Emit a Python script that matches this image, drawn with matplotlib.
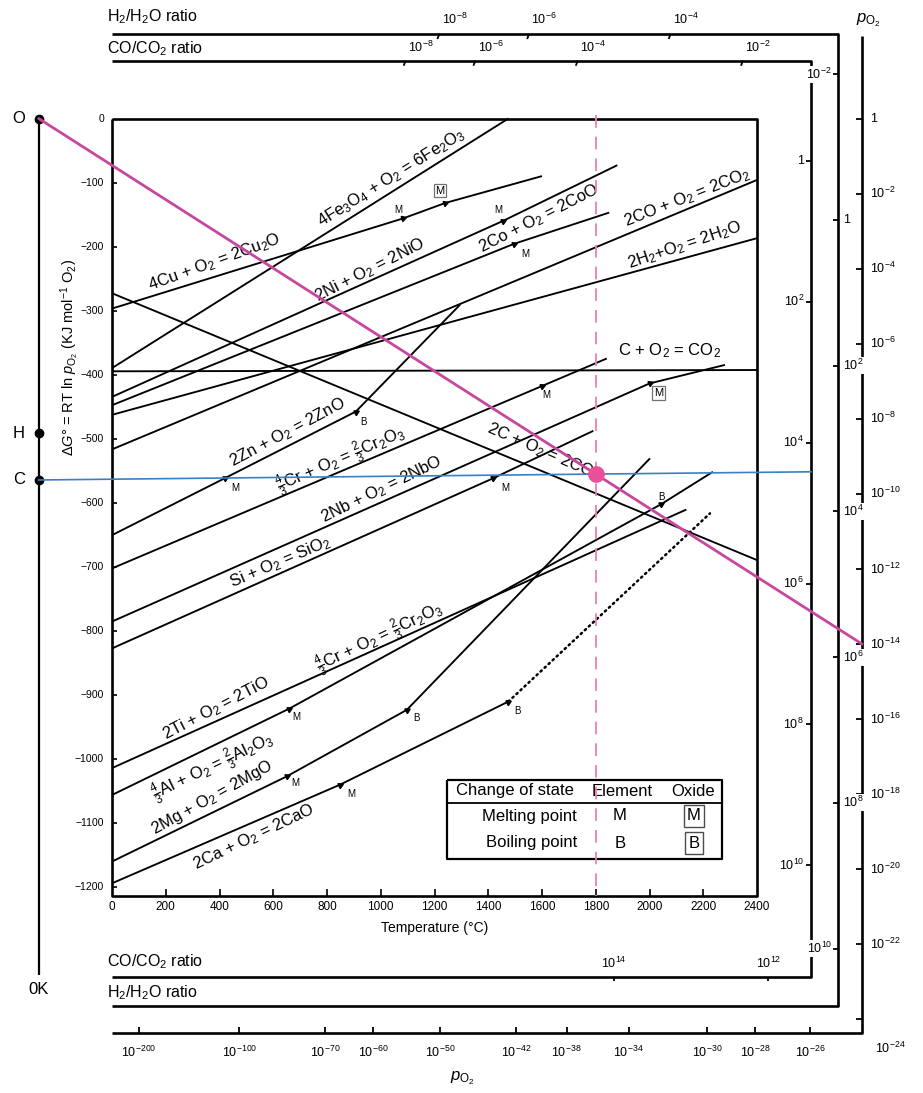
import numpy as np
import matplotlib
matplotlib.use("Agg")
import matplotlib.pyplot as plt
from matplotlib.patches import Rectangle

plt.rcParams['font.family'] = ['Liberation Sans', 'DejaVu Sans']
plt.rcParams['mathtext.fontset'] = 'custom'
plt.rcParams['mathtext.rm'] = 'Liberation Sans'
plt.rcParams['mathtext.it'] = 'Liberation Sans:italic'
plt.rcParams['mathtext.bf'] = 'Liberation Sans:bold'

# ---------------- data (T in deg C, dG in kJ/mol O2) ----------------
T_TICKS = [0, 200, 400, 600, 800, 1000, 1200, 1400, 1600, 1800, 2000, 2200, 2400]
G_TICKS = [0, -100, -200, -300, -400, -500, -600, -700, -800, -900, -1000, -1100, -1200]

cu_T = [0, 1084, 1240, 1600];        cu_G = [-297, -156, -132, -90]
fe_T = [0, 1475];                    fe_G = [-390, 0]
ni_T = [0, 1455, 1880];              ni_G = [-435, -160, -73]
co_T = [0, 1495, 1850];              co_G = [-448, -196, -147]
co2_T = [0, 2400];                   co2_G = [-517, -96]
h2_T = [0, 2400];                    h2_G = [-463, -187]
cco2_T = [0, 2400];                  cco2_G = [-395, -393]
c2co_T = [0, 2400];                  c2co_G = [-273, -690]
zn_T = [0, 420, 907, 1295];          zn_G = [-651, -562, -458, -291]
cr_T = [0, 1600, 1841];              cr_G = [-703, -418, -375]
nb_T = [0, 2000, 2281];              nb_G = [-786, -414, -385]
si_T = [0, 1419, 1791];              si_G = [-828, -562, -488]
ti_T = [0, 2137];                    ti_G = [-1015, -611]
al_T = [0, 660, 2042, 2236];         al_G = [-1057, -922, -603, -552]
mg_T = [0, 650, 1097, 2002];         mg_G = [-1161, -1028, -924, -531]
ca_T = [0, 848, 1475];               ca_G = [-1195, -1041, -911]
cag_T = [1475, 2225];                cag_G = [-911, -617]

solid_lines = [(cu_T, cu_G), (fe_T, fe_G), (ni_T, ni_G), (co_T, co_G), (co2_T, co2_G),
               (h2_T, h2_G), (cco2_T, cco2_G), (c2co_T, c2co_G), (zn_T, zn_G), (cr_T, cr_G),
               (nb_T, nb_G), (si_T, si_G), (ti_T, ti_G), (al_T, al_G), (mg_T, mg_G), (ca_T, ca_G)]

# reaction labels: text, T, dG, rotation
label_text = [r"4Cu + O$_2$ = 2Cu$_2$O", r"4Fe$_3$O$_4$ + O$_2$ = 6Fe$_2$O$_3$",
              r"2Ni + O$_2$ = 2NiO", r"2Co + O$_2$ = 2CoO", r"2CO + O$_2$ = 2CO$_2$",
              r"2H$_2$+O$_2$ = 2H$_2$O", r"C + O$_2$ = CO$_2$", r"2C + O$_2$ = 2CO",
              r"2Zn + O$_2$ = 2ZnO", r"$\frac{4}{3}$Cr + O$_2$ = $\frac{2}{3}$Cr$_2$O$_3$",
              r"2Nb + O$_2$ = 2NbO", r"Si + O$_2$ = SiO$_2$",
              r"$\frac{4}{3}$Cr + O$_2$ = $\frac{2}{3}$Cr$_2$O$_3$", r"2Ti + O$_2$ = 2TiO",
              r"$\frac{4}{3}$Al + O$_2$ = $\frac{2}{3}$Al$_2$O$_3$", r"2Mg + O$_2$ = 2MgO",
              r"2Ca + O$_2$ = 2CaO"]
label_T = [380, 1038, 960, 1589, 2139, 2132, 2076, 1593, 653, 852, 1003, 628, 997, 386, 377, 371, 529]
label_G = [-224, -93, -237, -157, -124, -198, -362, -518, -491, -534, -580, -694, -812, -921, -1013, -1061, -1122]
label_rot = [20, 32, 27, 27, 21.5, 18.5, 0, -23.5, 28, 23.5, 26, 23, 25.5, 27.5, 25.5, 29, 25.5]

# change-of-state points
cs_line = [cu_T, cu_T, ni_T, co_T, zn_T, zn_T, cr_T, nb_T, si_T, al_T, al_T, mg_T, mg_T, ca_T, ca_T]
cs_lineG = [cu_G, cu_G, ni_G, co_G, zn_G, zn_G, cr_G, nb_G, si_G, al_G, al_G, mg_G, mg_G, ca_G, ca_G]
cs_T = [1084, 1240, 1455, 1495, 420, 907, 1600, 2000, 1419, 660, 2042, 650, 1097, 848, 1475]
cs_kind = ["M", "M", "M", "M", "M", "B", "M", "M", "M", "M", "B", "M", "B", "M", "B"]
cs_oxide = [False, True, False, False, False, False, False, True, False, False, False, False, False, False, False]
cs_lT = [1065, 1220, 1437, 1537, 458, 935, 1617, 2033, 1462, 687, 2045, 681, 1134, 892, 1508]
cs_lG = [-143, -113, -143, -212, -578, -474, -432, -429, -578, -935, -591, -1039, -937, -1055, -926]

# nomographic scales (exponents of the tick labels)
po2_right_exp = [0, -2, -4, -6, -8, -10, -12, -14, -16, -18, -20, -22, -24]
po2_bottom_exp = [-200, -100, -70, -60, -50, -42, -38, -34, -30, -28, -26]
co_top_exp = [-8, -6, -4, -2]
co_right_exp = [0, 2, 4, 6, 8, 10]
co_bottom_exp = [14, 12]
h2_top_exp = [-8, -6, -4]
h2_right_exp = [-2, 0, 2, 4, 6, 8, 10]

# thermodynamic constants used by the nomograph
R = 8.314e-3
LN10 = np.log(10.0)
TK0 = 273.0
A_CO, B_CO = -564.8, 0.1734     # 2CO + O2 = 2CO2 (kJ, kJ/K)
A_H2, B_H2 = -492.0, 0.1122     # 2H2 + O2 = 2H2O
ANNOT_T = 1800
ANNOT_PO2_EXP = -14

# ---------------- layout (pixel geometry) ----------------
X0, XS = 112.0, 0.26875     # px of T=0, px per deg C
Y0, YS = 118.5, 0.64        # px of dG=0, px per kJ
W, H = 923, 1093

def px2T(x):
    return (x - X0) / XS

def py2G(y):
    return (Y0 - y) / YS

fig = plt.figure(figsize=(W / 100, H / 100), dpi=100)
ax = fig.add_axes([0, 0, 1, 1])
ax.set_xlim(px2T(0), px2T(W))
ax.set_ylim(py2G(H), py2G(0))
ax.axis('off')

K = dict(color='k', solid_capstyle='butt')
dT = 1 / XS   # one pixel in T units
dG = 1 / YS   # one pixel in G units

# frame
G_BOT = py2G(896)
ax.plot([0, 2400, 2400, 0, 0], [0, 0, G_BOT, G_BOT, 0], lw=1.9, zorder=4, **K)
for g in G_TICKS:
    if g != 0:
        ax.plot([0, 5 * dT], [g, g], lw=1.2, zorder=4, **K)
    ax.text(px2T(104), g, f"{g}".replace("-", "\u2212") if g else "0",
            ha='right', va='center', fontsize=7.5)
for t in T_TICKS:
    if 0 < t < 2400:
        ax.plot([t, t], [G_BOT, G_BOT + 7 * dG], lw=1.2, zorder=4, **K)
    ax.text(t, py2G(907), str(t), ha='center', va='center', fontsize=8.5)
ax.text(1200, py2G(928), "Temperature (\u00b0C)", ha='center', va='center', fontsize=10)
ax.text(px2T(70), py2G(357), r"$\Delta G\degree$ = RT ln $p_{\mathrm{O_2}}$ (KJ mol$^{-1}$ O$_2$)",
        rotation=90, ha='center', va='center', fontsize=10.5)

# reaction lines
for T, G in solid_lines:
    ax.plot(T, G, lw=1.35, zorder=3, **K)
ax.plot(cag_T, cag_G, color='k', lw=1.8, linestyle=(0, (0.6, 1.6)), dash_capstyle='round', zorder=3)

for s, t, g, r in zip(label_text, label_T, label_G, label_rot):
    ax.text(t, g, s, rotation=r, rotation_mode='anchor', ha='center', va='center', fontsize=12, zorder=5)

# change of state markers
for Tl, Gl, t, kind, ox, lt, lg in zip(cs_line, cs_lineG, cs_T, cs_kind, cs_oxide, cs_lT, cs_lG):
    g = np.interp(t, Tl, Gl)
    i = min(np.searchsorted(Tl, t), len(Tl) - 1)
    i = max(i, 1)
    ang = np.degrees(np.arctan2((Gl[i] - Gl[i - 1]) * YS, (Tl[i] - Tl[i - 1]) * XS))
    ax.plot([t], [g], marker=(3, 0, ang - 90), markersize=4.5, color='k', zorder=6)
    if ox:
        ax.text(lt, lg, kind, ha='center', va='center', fontsize=8, zorder=6,
                bbox=dict(boxstyle='square,pad=0.15', facecolor='white', edgecolor='0.45', lw=0.9))
    else:
        ax.text(lt, lg, kind, ha='center', va='center', fontsize=7, zorder=6)

# legend table
lx0, lx1, ly0, ly1, lym = px2T(447), px2T(722), py2G(780), py2G(859), py2G(803)
ax.plot([lx0, lx1, lx1, lx0, lx0], [ly0, ly0, ly1, ly1, ly0], lw=1.6, zorder=6, **K)
ax.plot([lx0, lx1], [lym, lym], lw=1.3, zorder=6, **K)
ax.add_patch(Rectangle((lx0, ly1), lx1 - lx0, ly0 - ly1, facecolor='white', edgecolor='none', zorder=5))
ax.text(px2T(515), py2G(791), "Change of state", ha='center', va='center', fontsize=12, zorder=7)
ax.text(px2T(622), py2G(791), "Element", ha='center', va='center', fontsize=12, zorder=7)
ax.text(px2T(693), py2G(791), "Oxide", ha='center', va='center', fontsize=12, zorder=7)
for yy, name, letter in [(816, "Melting point", "M"), (843, "Boiling point", "B")]:
    ax.text(px2T(577), py2G(yy), name, ha='right', va='center', fontsize=12, zorder=7)
    ax.text(px2T(620), py2G(yy), letter, ha='center', va='center', fontsize=12, zorder=7)
    ax.text(px2T(694), py2G(yy), letter, ha='center', va='center', fontsize=12, zorder=7,
            bbox=dict(boxstyle='square,pad=0.2', facecolor='white', edgecolor='0.3', lw=1.0))

# ---------------- nomographic scales ----------------
def sup(e):
    return r"$10^{%d}$" % e if e != 0 else "1"

LW_S = 1.9
tfs = 9
# pO2 scale
xR = px2T(862); yB = py2G(1033); yTop = py2G(36)
ax.plot([px2T(112), xR, xR], [yB, yB, yTop], lw=LW_S, **K)
for e in po2_right_exp:
    g = R * (xR + TK0) * LN10 * e
    ax.plot([xR - 6 * dT, xR], [g, g], lw=1.3, **K)
    if e != -24:
        ax.text(xR + 8 * dT, g, sup(e), ha='left', va='center', fontsize=tfs)
ax.text(xR + 28 * dT, yB - 15 * dG, sup(-24), ha='center', va='center', fontsize=tfs)
for e in po2_bottom_exp:
    t = yB / (R * LN10 * e) - TK0
    ax.plot([t, t], [yB, yB + 6 * dG], lw=1.3, **K)
    ax.text(t, yB - 19 * dG, sup(e), ha='center', va='center', fontsize=tfs)
ax.text(px2T(868), py2G(20), r"$p_{\mathrm{O_2}}$", ha='center', va='center', fontsize=12)
ax.text(px2T(462), py2G(1078), r"$p_{\mathrm{O_2}}$", ha='center', va='center', fontsize=12)

# H2/H2O scale
hT = py2G(34); hR = px2T(838); hB = py2G(1006)
ax.plot([px2T(112), hR, hR, px2T(112)], [hT, hT, hB, hB], lw=LW_S, **K)
for e in h2_top_exp:
    t = (hT - A_H2) / (B_H2 - 2 * R * LN10 * e) - TK0
    ax.plot([t, t - 2 * dT], [hT, hT - 5 * dG], lw=1.3, **K)
    ax.text(t + 15 * dT, hT + 15 * dG, sup(e), ha='center', va='center', fontsize=tfs)
for e in h2_right_exp:
    g = A_H2 + (hR + TK0) * (B_H2 - 2 * R * LN10 * e)
    ax.plot([hR - 5 * dT, hR], [g, g], lw=1.3, **K)
    if e in (-2, 10):
        ax.text(hR - 6 * dT, g, sup(e), ha='right', va='center', fontsize=tfs, zorder=6,
                bbox=dict(facecolor='white', edgecolor='none', pad=0.6))
    else:
        ax.text(hR + 5 * dT, g, sup(e), ha='left', va='center', fontsize=tfs, zorder=6,
                bbox=dict(facecolor='white', edgecolor='none', pad=0.6))
ax.text(px2T(107), py2G(17), r"H$_2$/H$_2$O ratio", ha='left', va='center', fontsize=11.5)
ax.text(px2T(107), py2G(993), r"H$_2$/H$_2$O ratio", ha='left', va='center', fontsize=11.5)

# CO/CO2 scale
cT = py2G(60.7); cR = px2T(811); cB = py2G(977)
ax.plot([px2T(112), cR, cR, px2T(112)], [cT, cT, cB, cB], lw=LW_S, **K)
for e in co_top_exp:
    t = (cT - A_CO) / (B_CO - 2 * R * LN10 * e) - TK0
    ax.plot([t, t - 2 * dT], [cT, cT - 5 * dG], lw=1.3, **K)
    ax.text(t + 15 * dT, cT + 13 * dG, sup(e), ha='center', va='center', fontsize=tfs)
for e in co_right_exp:
    g = A_CO + (cR + TK0) * (B_CO - 2 * R * LN10 * e)
    ax.plot([cR - 5 * dT, cR], [g, g], lw=1.3, **K)
    ax.text(cR - 7 * dT, g, sup(e), ha='right', va='center', fontsize=tfs, zorder=6)
for e in co_bottom_exp:
    t = (cB - A_CO) / (B_CO - 2 * R * LN10 * e) - TK0
    ax.plot([t, t], [cB, cB - 4 * dG], lw=1.3, **K)
    ax.text(t, cB + 14 * dG, sup(e), ha='center', va='center', fontsize=tfs)
ax.text(px2T(107), py2G(49), r"CO/CO$_2$ ratio", ha='left', va='center', fontsize=11.5)
ax.text(px2T(107), py2G(962), r"CO/CO$_2$ ratio", ha='left', va='center', fontsize=11.5)

# left 0 K axis with O, H, C points
T0K = -TK0
ax.plot([T0K, T0K], [0, py2G(975)], lw=1.6, **K)
pt_names = ["O", "H", "C"]
pt_G = [0.0, A_H2, A_CO]
for n, g in zip(pt_names, pt_G):
    ax.plot([T0K], [g], 'o', color='k', markersize=6, zorder=7)
    ax.text(T0K - 20 * dT, g, n, ha='center', va='center', fontsize=12)
ax.text(T0K, py2G(990), "0K", ha='center', va='center', fontsize=12)

# ---------------- overlay annotation ----------------
ax.plot([ANNOT_T, ANNOT_T], [4 * dG, G_BOT], color='#ec7fb3', lw=1.3, linestyle=(0, (7, 5)), zorder=8)
g_dot = R * (ANNOT_T + TK0) * LN10 * ANNOT_PO2_EXP
g_end = R * (xR + TK0) * LN10 * ANNOT_PO2_EXP
ax.plot([T0K, xR], [0, g_end], color='#c8479e', lw=2.0, zorder=8, solid_capstyle='round')
slope = (g_dot - A_CO) / (ANNOT_T + TK0)
ax.plot([T0K, cR], [A_CO, A_CO + slope * (cR + TK0)], color='#3b7fc6', lw=1.2, zorder=8)
ax.plot([ANNOT_T], [g_dot], 'o', color='#e8509a', markersize=11, zorder=9)

fig.savefig("out.png", dpi=100)
